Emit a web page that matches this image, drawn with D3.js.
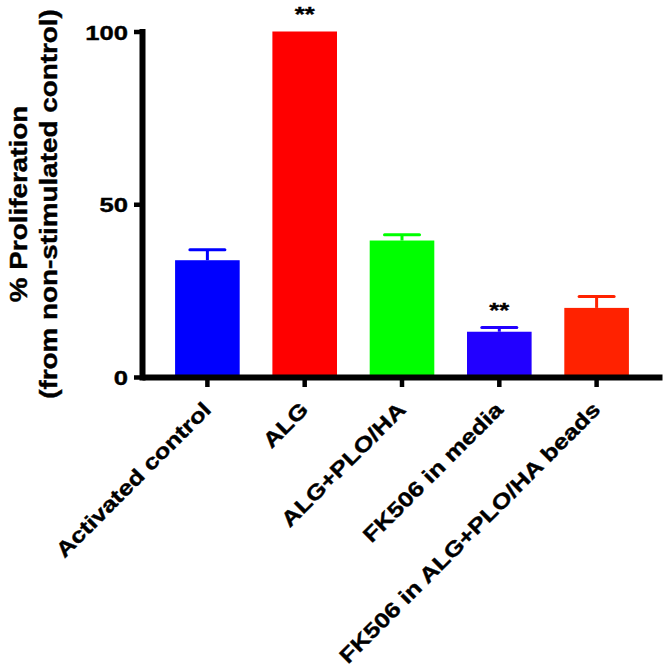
<!DOCTYPE html>
<html lang="en">
<style>
body { margin: 0; background: white; }
svg { display: block; }
text {
    font-family: "Liberation Sans", Arial, sans-serif;
    font-weight: bold;
    fill: black;
    stroke: black;
    stroke-width: 0.4px;
}
.axis path, .axis line {
    stroke: black;
}
.axis path { stroke-width: 6px; }
.axis line { stroke-width: 4.5px; }
.errbar {
    stroke-width: 3px;
    stroke-linecap: round;
    fill: none;
}
</style>
<svg width="665" height="671"></svg>
<script src="https://d3js.org/d3.v7.min.js"></script>
<script>
var categories = ["Activated control", "ALG", "ALG+PLO/HA", "FK506 in media", "FK506 in ALG+PLO/HA beads"];
var means = [33.8, 100, 39.5, 13.1, 20.0];
var sems = [3.0, 0, 1.7, 1.2, 3.3];
var signif = ["", "**", "", "**", ""];
var colors = ["#0000ff", "#ff0000", "#00ff00", "#2200ff", "#ff2200"];
var yTicks = [0, 50, 100];

var svg = d3.select("svg");
var sx = 1.22;   // reference font is a bit wider than Arial

var xScale = d3.scaleBand()
    .domain(categories)
    .range([142, 662])
    .paddingInner(0.336)
    .paddingOuter(0.34);

var yScale = d3.scaleLinear()
    .domain([0, 100])
    .range([377, 31.5]);

// bars
svg.selectAll(".bar")
    .data(categories)
    .enter().append("rect")
        .attr("class", "bar")
        .attr("x", function(d) { return xScale(d); })
        .attr("width", xScale.bandwidth())
        .attr("y", function(d, i) { return yScale(means[i]); })
        .attr("height", function(d, i) { return yScale(0) - yScale(means[i]); })
        .attr("fill", function(d, i) { return colors[i]; });

// error bars (upper half only)
var capW = 35;
var eb = svg.selectAll(".errbar")
    .data(categories)
    .enter().append("g")
        .attr("class", "errbar")
        .attr("stroke", function(d, i) { return colors[i]; })
        .style("display", function(d, i) { return sems[i] > 0 ? null : "none"; });

eb.append("line")
    .attr("x1", function(d) { return xScale(d) + xScale.bandwidth() / 2; })
    .attr("x2", function(d) { return xScale(d) + xScale.bandwidth() / 2; })
    .attr("y1", function(d, i) { return yScale(means[i]); })
    .attr("y2", function(d, i) { return yScale(means[i] + sems[i]); })
    .attr("stroke-linecap", "butt");

eb.append("line")
    .attr("x1", function(d) { return xScale(d) + xScale.bandwidth() / 2 - capW / 2; })
    .attr("x2", function(d) { return xScale(d) + xScale.bandwidth() / 2 + capW / 2; })
    .attr("y1", function(d, i) { return yScale(means[i] + sems[i]); })
    .attr("y2", function(d, i) { return yScale(means[i] + sems[i]); });

// significance stars
svg.selectAll(".sig")
    .data(categories)
    .enter().append("text")
        .attr("class", "sig")
        .attr("text-anchor", "middle")
        .style("font-size", "21px")
        .attr("transform", function(d, i) {
            var x = xScale(d) + xScale.bandwidth() / 2;
            var y = yScale(means[i] + sems[i]) - 11;
            return "translate(" + x + "," + y + ") scale(" + sx + ",1)";
        })
        .text(function(d, i) { return signif[i]; });

// y axis
var yAxisG = svg.append("g")
    .attr("class", "axis")
    .attr("transform", "translate(142,0)")
    .call(d3.axisLeft(yScale)
        .tickValues(yTicks)
        .tickSize(8)
        .tickSizeOuter(0)
    );
yAxisG.select(".domain").attr("stroke-linecap", "square");
yAxisG.selectAll("text")
    .attr("x", null)
    .attr("dy", "0.36em")
    .attr("text-anchor", "end")
    .style("font-size", "21px")
    .attr("transform", "translate(-14,0) scale(" + sx + ",1)");

// x axis
var xAxisG = svg.append("g")
    .attr("class", "axis")
    .attr("transform", "translate(0," + yScale(0) + ")")
    .call(d3.axisBottom(xScale)
        .tickSize(10)
        .tickSizeOuter(0)
    );
xAxisG.selectAll("text")
    .attr("y", null)
    .attr("dy", null)
    .attr("text-anchor", "end")
    .style("font-size", "21px")
    .attr("transform", "translate(5,34) rotate(-45) scale(" + sx + ",1)");

// y axis title
var title = svg.append("text")
    .attr("text-anchor", "middle")
    .style("font-size", "24px")
    .attr("transform", "translate(27,204) rotate(-90) scale(1.16,1)");
title.append("tspan").attr("x", 0).attr("y", 0).text("% Proliferation");
title.append("tspan").attr("x", 0).attr("y", 30).text("(from non-stimulated control)");
</script>
